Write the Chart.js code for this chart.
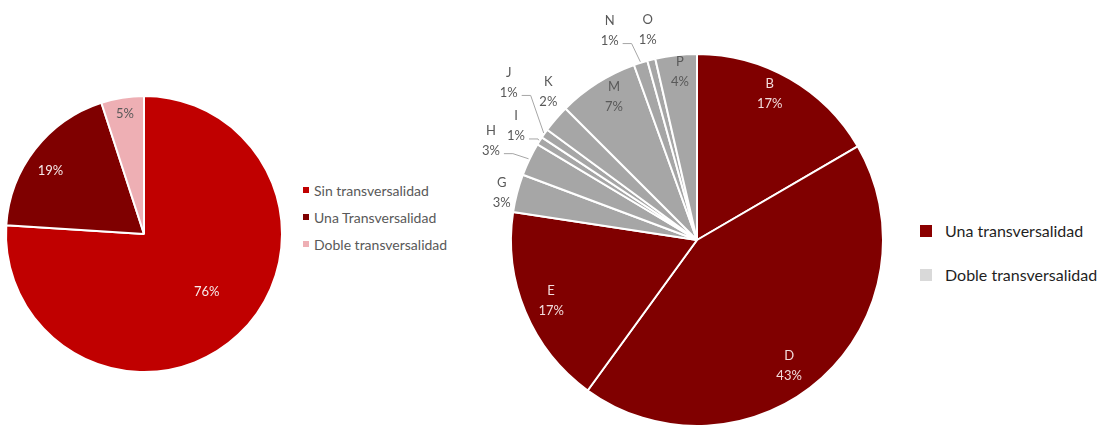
<!DOCTYPE html>
<html>
<head>
<meta charset="utf-8">
<script src="https://cdn.jsdelivr.net/npm/chart.js@4.4.0/dist/chart.umd.min.js"></script>
<style>
  body { margin: 0; width: 1100px; height: 428px; overflow: hidden; background: #fff; position: relative; font-family: Lato, "Noto Sans", sans-serif; }
  canvas { position: absolute; }
  #left-chart { left: 0; top: 0; }
  #right-chart { left: 470px; top: 0; }
  .legend { position: absolute; white-space: nowrap; }
  .legend div { position: absolute; left: 0; }
  .legend span { display: inline-block; vertical-align: middle; }
  #left-legend { left: 303px; top: 180px; font-size: 14px; color: #595959; }
  #left-legend span.box { width: 6px; height: 6px; margin-right: 5px; }
  #right-legend { left: 920px; top: 219px; font-size: 16px; color: #1f1f1f; }
  #right-legend span.box { width: 12px; height: 12px; margin-right: 13px; }
</style>
</head>
<body>
<canvas id="left-chart" width="300" height="428"></canvas>
<canvas id="right-chart" width="430" height="428"></canvas>
<div class="legend" id="left-legend"></div>
<div class="legend" id="right-legend"></div>
<script>
// left pie
var leftLabels = ["Sin transversalidad", "Una Transversalidad", "Doble transversalidad"]
var leftValues = [76, 19, 5]
var leftColors = ["#C00000", "#7F0000", "#EEAFB4"]

// right pie
var rightLabels = ["B", "D", "E", "G", "H", "I", "J", "K", "M", "N", "O", "P"]
var rightValues = [16.6, 43.4, 17.4, 3.3, 2.9, 0.7, 0.8, 2.4, 7.0, 1.2, 0.7, 3.6]
var rightGroups = ["una", "una", "una", "doble", "doble", "doble", "doble", "doble", "doble", "doble", "doble", "doble"]
var rightLegend = ["Una transversalidad", "Doble transversalidad"]

var groupColor = {una: "#800000", doble: "#A6A6A6"}
var groupText = {una: "#F2DCDC", doble: "#595959"}

// label placement: [radius factor, angle offset (deg), leader line]
var leftPlace = [[0.62, -4, false], [0.82, -3.6, false], [0.88, 0, false]]
var rightPlace = [
  [0.88, -3.5, false], [0.84, 6, false], [0.85, 0, false], [1.08, -1, false],
  [1.23, 0, true], [1.15, 0, true], [1.32, 5, true], [1.13, 4.3, false],
  [0.89, 2.3, false], [1.22, -5, true], [1.16, 1, false], [0.91, 0.7, false]
]

var sliceLabels = {
  id: 'sliceLabels',
  afterDatasetsDraw: function(chart) {
    var cfg = chart.options.plugins.sliceLabels
    var ds = chart.data.datasets[0]
    var meta = chart.getDatasetMeta(0)
    var total = ds.data.reduce(function(a, b) { return a + b }, 0)
    var ctx = chart.ctx
    ctx.save()
    ctx.font = '13px Lato, "Noto Sans", sans-serif'
    ctx.textAlign = 'center'
    ctx.textBaseline = 'middle'
    meta.data.forEach(function(arc, i) {
      var p = arc.getProps(['x', 'y', 'startAngle', 'endAngle', 'outerRadius'], true)
      var pl = cfg.place[i]
      var mid = (p.startAngle + p.endAngle) / 2
      var a = mid + pl[1] * Math.PI / 180
      var lx = p.x + Math.cos(a) * p.outerRadius * pl[0]
      var ly = p.y + Math.sin(a) * p.outerRadius * pl[0]
      var pct = Math.round(ds.data[i] / total * 100) + '%'
      ctx.fillStyle = cfg.colors[i]
      if (cfg.showName) {
        ctx.fillText(chart.data.labels[i], lx, ly - 10)
        ctx.fillText(pct, lx, ly + 10)
      } else {
        ctx.fillText(pct, lx, ly)
      }
      if (pl[2]) {
        var sx = lx + ctx.measureText(pct).width / 2 + 4
        var sy = ly + 13
        ctx.beginPath()
        ctx.strokeStyle = '#A6A6A6'
        ctx.lineWidth = 1
        ctx.moveTo(sx, sy)
        ctx.lineTo(sx + 9, sy)
        ctx.lineTo(p.x + Math.cos(mid) * (p.outerRadius + 1), p.y + Math.sin(mid) * (p.outerRadius + 1))
        ctx.stroke()
      }
    })
    ctx.restore()
  }
}

function pieOptions(padding, place, colors, showName) {
  return {
    responsive: false,
    animation: false,
    layout: {padding: padding},
    plugins: {
      legend: {display: false},
      tooltip: {enabled: false},
      sliceLabels: {place: place, colors: colors, showName: showName}
    }
  }
}

// left chart: centre (144,234), radius 138
new Chart(document.getElementById('left-chart'), {
  type: 'pie',
  data: {
    labels: leftLabels,
    datasets: [{data: leftValues, backgroundColor: leftColors, borderColor: '#fff', borderWidth: 2, radius: 138}]
  },
  options: pieOptions({left: 6, right: 18, top: 96, bottom: 56}, leftPlace, ["#F7EAEA", "#F7EAEA", "#595959"], false),
  plugins: [sliceLabels]
})

// right chart: centre (697,240) -> local (227,240), radius 186
new Chart(document.getElementById('right-chart'), {
  type: 'pie',
  data: {
    labels: rightLabels,
    datasets: [{
      data: rightValues,
      backgroundColor: rightGroups.map(function(g) { return groupColor[g] }),
      borderColor: '#fff', borderWidth: 2, radius: 186
    }]
  },
  options: pieOptions({left: 41, right: 17, top: 54, bottom: 2}, rightPlace,
    rightGroups.map(function(g) { return groupText[g] }), true),
  plugins: [sliceLabels]
})

// legends
var ll = document.getElementById('left-legend')
leftLabels.forEach(function(t, i) {
  var d = document.createElement('div')
  d.style.top = (i * 27) + 'px'
  d.innerHTML = '<span class="box" style="background:' + leftColors[i] + '"></span><span>' + t + '</span>'
  ll.appendChild(d)
})
var rl = document.getElementById('right-legend')
var rlColors = ["#8B0000", "#D9D9D9"]
rightLegend.forEach(function(t, i) {
  var d = document.createElement('div')
  d.style.top = (i * 44) + 'px'
  d.innerHTML = '<span class="box" style="background:' + rlColors[i] + '"></span><span>' + t + '</span>'
  rl.appendChild(d)
})
</script>
</body>
</html>
